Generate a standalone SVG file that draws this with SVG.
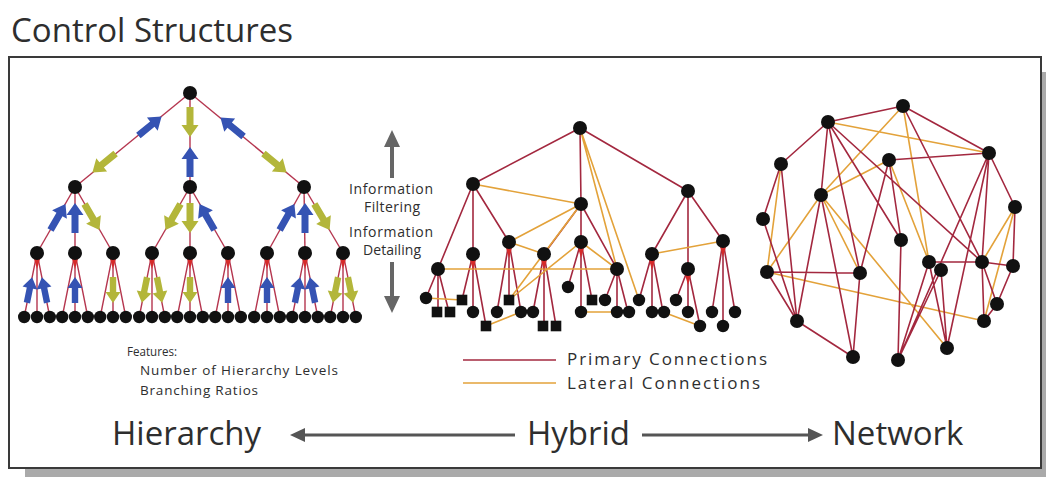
<svg xmlns="http://www.w3.org/2000/svg" width="1046" height="477" viewBox="0 0 1046 477">
<style>
text{font-family:"Open Sans","Liberation Sans",sans-serif;fill:#2e2e2e}
.pri{stroke:#a3283f;stroke-width:1.6;fill:none}
.lat{stroke:#e3a23a;stroke-width:1.6;fill:none}
.hl{stroke:#b5364f;stroke-width:1.4;fill:none}
.up{fill:#3553b3}
.dn{fill:#b3b63a}
.nd{fill:#111}
.hub{fill:#d62a2a}
.big{font-size:33px}
.mid{font-size:14px}
.sm{font-size:13.5px}
.leg{font-size:17px}
.garr{fill:#666}
.barr{stroke:#555;stroke-width:3}
</style>
<defs>
<circle id="dot" r="7"/>
<circle id="leaf" r="6.2"/>
<rect id="sq" x="-5.3" y="-5.3" width="10.6" height="10.6"/>
<path id="arr" d="M-15,-3.5 L3,-3.5 L3,-8.5 L15,0 L3,8.5 L3,3.5 L-15,3.5 Z"/>
<path id="arrS" d="M-13,-3.2 L2,-3.2 L2,-7.5 L13,0 L2,7.5 L2,3.2 L-13,3.2 Z"/>
<path id="hubS" d="M-3.5,4 L3.5,4 L0,16 Z"/>
</defs>

<rect x="25" y="72" width="1021" height="405" fill="#aaa"/>
<rect x="9" y="57" width="1032" height="411" fill="#fff" stroke="#3a3a3a" stroke-width="2"/>
<text x="11" y="42" class="big">Control Structures</text>

<!-- ===== Hierarchy ===== -->
<g id="hier-connectors">
<g class="hl">
<line x1="190" y1="93" x2="75" y2="187"/><line x1="190" y1="93" x2="190" y2="187"/><line x1="190" y1="93" x2="304" y2="187"/>
<line x1="75" y1="187" x2="37" y2="253"/><line x1="75" y1="187" x2="75" y2="253"/><line x1="75" y1="187" x2="113" y2="253"/>
<line x1="190" y1="187" x2="152" y2="253"/><line x1="190" y1="187" x2="190" y2="253"/><line x1="190" y1="187" x2="228" y2="253"/>
<line x1="304" y1="187" x2="267" y2="253"/><line x1="304" y1="187" x2="305" y2="253"/><line x1="304" y1="187" x2="343" y2="253"/>
<path d="M37,253L24.2,317M37,253L37,317M37,253L49.8,317 M75,253L62.2,317M75,253L75,317M75,253L87.8,317 M113,253L100.2,317M113,253L113,317M113,253L125.8,317 M152,253L139.2,317M152,253L152,317M152,253L164.8,317 M190,253L177.2,317M190,253L190,317M190,253L202.8,317 M228,253L215.2,317M228,253L228,317M228,253L240.8,317 M267,253L254.2,317M267,253L267,317M267,253L279.8,317 M305,253L292.2,317M305,253L305,317M305,253L317.8,317 M343,253L330.2,317M343,253L343,317M343,253L355.8,317"/>
</g>
<g class="hub">
<use href="#hubS" x="37" y="253"/><use href="#hubS" x="75" y="253"/><use href="#hubS" x="113" y="253"/><use href="#hubS" x="152" y="253"/><use href="#hubS" x="190" y="253"/><use href="#hubS" x="228" y="253"/><use href="#hubS" x="267" y="253"/><use href="#hubS" x="305" y="253"/><use href="#hubS" x="343" y="253"/>
</g>
<use href="#arr" class="up" transform="translate(150,126) rotate(-39.3)"/>
<use href="#arr" class="dn" transform="translate(104,163) rotate(140.7)"/>
<use href="#arr" class="dn" transform="translate(190,122) rotate(90)"/>
<use href="#arr" class="up" transform="translate(190,162) rotate(-90)"/>
<use href="#arr" class="up" transform="translate(232,127) rotate(-140.5)"/>
<use href="#arr" class="dn" transform="translate(275,163) rotate(39.5)"/>
<use href="#arr" class="up" transform="translate(58,217) rotate(-60.1)"/>
<use href="#arr" class="up" transform="translate(75,218) rotate(-90)"/>
<use href="#arr" class="dn" transform="translate(92,217) rotate(60.1)"/>
<use href="#arr" class="dn" transform="translate(173,217) rotate(119.9)"/>
<use href="#arr" class="dn" transform="translate(190,218) rotate(90)"/>
<use href="#arr" class="up" transform="translate(207,217) rotate(-119.9)"/>
<use href="#arr" class="up" transform="translate(287,217) rotate(-60.6)"/>
<use href="#arr" class="up" transform="translate(305,218) rotate(-90)"/>
<use href="#arr" class="dn" transform="translate(322,217) rotate(59.4)"/>
<use href="#arrS" class="up" transform="translate(29.5,290) rotate(-78.5)"/>
<use href="#arrS" class="up" transform="translate(44.5,290) rotate(-101.5)"/>
<use href="#arrS" class="up" transform="translate(75,290) rotate(-90)"/>
<use href="#arrS" class="dn" transform="translate(113,290) rotate(90)"/>
<use href="#arrS" class="dn" transform="translate(144.5,290) rotate(101.5)"/>
<use href="#arrS" class="dn" transform="translate(159.5,290) rotate(78.5)"/>
<use href="#arrS" class="dn" transform="translate(190,290) rotate(90)"/>
<use href="#arrS" class="up" transform="translate(228,290) rotate(-90)"/>
<use href="#arrS" class="up" transform="translate(267,290) rotate(-90)"/>
<use href="#arrS" class="up" transform="translate(297.5,290) rotate(-78.5)"/>
<use href="#arrS" class="up" transform="translate(312.5,290) rotate(-101.5)"/>
<use href="#arrS" class="dn" transform="translate(335.5,290) rotate(101.5)"/>
<use href="#arrS" class="dn" transform="translate(350.5,290) rotate(78.5)"/>
</g>
<g id="hier-nodes" class="nd">
<g id="h-root"><use href="#dot" x="190" y="93"/></g>
<g id="h-l"><use href="#dot" x="75" y="187"/></g>
<g id="h-m"><use href="#dot" x="190" y="187"/></g>
<g id="h-r"><use href="#dot" x="304" y="187"/></g>
<g id="h-a"><use href="#dot" x="37" y="253"/></g>
<g id="h-b"><use href="#dot" x="75" y="253"/></g>
<g id="h-c"><use href="#dot" x="113" y="253"/></g>
<g id="h-d"><use href="#dot" x="152" y="253"/></g>
<g id="h-e"><use href="#dot" x="190" y="253"/></g>
<g id="h-f"><use href="#dot" x="228" y="253"/></g>
<g id="h-g"><use href="#dot" x="267" y="253"/></g>
<g id="h-h"><use href="#dot" x="305" y="253"/></g>
<g id="h-i"><use href="#dot" x="343" y="253"/></g>
<g id="h-a1"><use href="#leaf" x="24.2" y="317"/></g><g id="h-a2"><use href="#leaf" x="37" y="317"/></g><g id="h-a3"><use href="#leaf" x="49.8" y="317"/></g>
<g id="h-b1"><use href="#leaf" x="62.2" y="317"/></g><g id="h-b2"><use href="#leaf" x="75" y="317"/></g><g id="h-b3"><use href="#leaf" x="87.8" y="317"/></g>
<g id="h-c1"><use href="#leaf" x="100.2" y="317"/></g><g id="h-c2"><use href="#leaf" x="113" y="317"/></g><g id="h-c3"><use href="#leaf" x="125.8" y="317"/></g>
<g id="h-d1"><use href="#leaf" x="139.2" y="317"/></g><g id="h-d2"><use href="#leaf" x="152" y="317"/></g><g id="h-d3"><use href="#leaf" x="164.8" y="317"/></g>
<g id="h-e1"><use href="#leaf" x="177.2" y="317"/></g><g id="h-e2"><use href="#leaf" x="190" y="317"/></g><g id="h-e3"><use href="#leaf" x="202.8" y="317"/></g>
<g id="h-f1"><use href="#leaf" x="215.2" y="317"/></g><g id="h-f2"><use href="#leaf" x="228" y="317"/></g><g id="h-f3"><use href="#leaf" x="240.8" y="317"/></g>
<g id="h-g1"><use href="#leaf" x="254.2" y="317"/></g><g id="h-g2"><use href="#leaf" x="267" y="317"/></g><g id="h-g3"><use href="#leaf" x="279.8" y="317"/></g>
<g id="h-h1"><use href="#leaf" x="292.2" y="317"/></g><g id="h-h2"><use href="#leaf" x="305" y="317"/></g><g id="h-h3"><use href="#leaf" x="317.8" y="317"/></g>
<g id="h-i1"><use href="#leaf" x="330.2" y="317"/></g><g id="h-i2"><use href="#leaf" x="343" y="317"/></g><g id="h-i3"><use href="#leaf" x="355.8" y="317"/></g>
</g>

<text x="127" y="356" class="sm" textLength="50" lengthAdjust="spacingAndGlyphs">Features:</text>
<text x="140" y="375" class="sm" textLength="198" lengthAdjust="spacing">Number of Hierarchy Levels</text>
<text x="140" y="395" class="sm" textLength="118" lengthAdjust="spacing">Branching Ratios</text>

<!-- ===== middle ===== -->
<g id="info-arrows" class="garr">
<polygon points="392,130 400,147 394,147 394,178 390,178 390,147 384,147"/>
<polygon points="392,313 400,296 394,296 394,262 390,262 390,296 384,296"/>
</g>
<g text-anchor="middle" class="mid">
<text x="391" y="194" textLength="84" lengthAdjust="spacing">Information</text>
<text x="392" y="212" textLength="56" lengthAdjust="spacing">Filtering</text>
<text x="391" y="237" textLength="84" lengthAdjust="spacing">Information</text>
<text x="392" y="255" textLength="58" lengthAdjust="spacing">Detailing</text>
</g>

<!-- ===== Hybrid ===== -->
<g id="hyb-connectors">
<g class="pri">
<path d="M580,128L473,184M580,128L581,204M580,128L688,191
M473,184L438,269M473,184L473,254M473,184L509,242
M581,204L544,254M581,204L581,242M581,204L617,269
M688,191L652,254M688,191L688,269M688,191L723,241
M438,269L426,298M438,269L438,312M438,269L449,312
M473,254L462,300M473,254L473,312M473,254L486,326
M509,242L497,312M509,242L509,300M509,242L521,312
M544,254L533,312M544,254L544,326M544,254L556,326
M581,242L568,287M581,242L581,312M581,242L592,300
M617,269L605,300M617,269L617,312M617,269L628,312
M652,254L639,300M652,254L652,312M652,254L663,312
M688,269L676,300M688,269L688,312M688,269L700,326
M723,241L712,312M723,241L723,326M723,241L735,312"/>
</g>
<g class="lat">
<path d="M473,184L581,204 M580,128L617,269 M580,128L639,300 M581,204L509,242 M509,242L544,254 M581,242L617,269
M438,269L617,269 M509,300L581,242 M509,300L581,204 M426,298L462,300 M486,326L521,312 M581,312L617,312
M652,254L723,241 M663,312L700,326"/>
</g>
<g class="hub">
<use href="#hubS" x="473" y="254"/><use href="#hubS" x="509" y="242"/><use href="#hubS" x="544" y="254"/><use href="#hubS" x="581" y="242"/><use href="#hubS" x="652" y="254"/><use href="#hubS" x="688" y="269"/><use href="#hubS" x="723" y="241"/>
</g>
</g>
<g id="hyb-nodes" class="nd">
<g id="y-A"><use href="#dot" x="580" y="128"/></g>
<g id="y-B"><use href="#dot" x="473" y="184"/></g>
<g id="y-C"><use href="#dot" x="581" y="204"/></g>
<g id="y-D"><use href="#dot" x="688" y="191"/></g>
<g id="y-E"><use href="#dot" x="438" y="269"/></g>
<g id="y-F"><use href="#dot" x="473" y="254"/></g>
<g id="y-G"><use href="#dot" x="509" y="242"/></g>
<g id="y-H"><use href="#dot" x="544" y="254"/></g>
<g id="y-I"><use href="#dot" x="581" y="242"/></g>
<g id="y-J"><use href="#dot" x="617" y="269"/></g>
<g id="y-K"><use href="#dot" x="652" y="254"/></g>
<g id="y-L"><use href="#dot" x="688" y="269"/></g>
<g id="y-M"><use href="#dot" x="723" y="241"/></g>
<g id="y-E1"><use href="#leaf" x="426" y="298"/></g><g id="y-E2"><use href="#sq" x="437" y="312"/></g><g id="y-E3"><use href="#sq" x="450" y="312"/></g>
<g id="y-F1"><use href="#sq" x="462" y="300"/></g><g id="y-F2"><use href="#leaf" x="473" y="312"/></g><g id="y-F3"><use href="#sq" x="486" y="326"/></g>
<g id="y-G1"><use href="#leaf" x="497" y="312"/></g><g id="y-G2"><use href="#sq" x="509" y="300"/></g><g id="y-G3"><use href="#leaf" x="521" y="312"/></g>
<g id="y-H1"><use href="#leaf" x="533" y="312"/></g><g id="y-H2"><use href="#sq" x="543" y="326"/></g><g id="y-H3"><use href="#sq" x="556" y="326"/></g>
<g id="y-I1"><use href="#leaf" x="568" y="287"/></g><g id="y-I2"><use href="#leaf" x="581" y="312"/></g><g id="y-I3"><use href="#sq" x="592" y="300"/></g>
<g id="y-J1"><use href="#leaf" x="605" y="300"/></g><g id="y-J2"><use href="#leaf" x="617" y="312"/></g><g id="y-J3"><use href="#leaf" x="629" y="312"/></g>
<g id="y-K1"><use href="#leaf" x="639" y="300"/></g><g id="y-K2"><use href="#leaf" x="652" y="312"/></g><g id="y-K3"><use href="#leaf" x="664" y="312"/></g>
<g id="y-L1"><use href="#leaf" x="676" y="300"/></g><g id="y-L2"><use href="#leaf" x="688" y="312"/></g><g id="y-L3"><use href="#leaf" x="700" y="326"/></g>
<g id="y-M1"><use href="#leaf" x="712" y="312"/></g><g id="y-M2"><use href="#leaf" x="723" y="326"/></g><g id="y-M3"><use href="#leaf" x="735" y="312"/></g>
</g>

<!-- ===== Network ===== -->
<g id="net-connectors">
<g class="lat">
<path d="M828,122L989,153 M903,106L821,195 M903,106L929,262 M821,195L889,160 M821,195L767,272 M821,195L860,273 M821,195L947,348
M767,272L984,321 M781,164L767,272 M889,160L929,262 M1015,207L982,262 M1015,207L984,321"/>
</g>
<g class="pri">
<path d="M828,122L903,106 M903,106L989,153 M828,122L781,164 M828,122L821,195 M828,122L901,240 M828,122L982,262 M828,122L860,273
M903,106L982,262 M989,153L889,160 M989,153L982,262 M989,153L1015,207 M989,153L898,360 M989,153L947,348
M781,164L763,219 M763,219L797,321 M781,164L797,321 M767,272L860,273 M767,272L797,321 M821,195L797,321 M821,195L853,357
M889,160L860,273 M889,160L901,240 M901,240L898,360 M797,321L853,357 M860,273L853,357 M1015,207L1013,266
M929,262L982,262 M982,262L1013,266 M929,262L947,348 M941,270L947,348 M941,270L898,360 M929,262L898,360
M982,262L997,304 M1013,266L997,304 M997,304L984,321 M982,262L984,321"/>
</g>
</g>
<g id="net-nodes" class="nd">
<g id="n1"><use href="#dot" x="903" y="106"/></g>
<g id="n2"><use href="#dot" x="828" y="122"/></g>
<g id="n3"><use href="#dot" x="989" y="153"/></g>
<g id="n4"><use href="#dot" x="781" y="164"/></g>
<g id="n5"><use href="#dot" x="889" y="160"/></g>
<g id="n6"><use href="#dot" x="821" y="195"/></g>
<g id="n7"><use href="#dot" x="1015" y="207"/></g>
<g id="n8"><use href="#dot" x="763" y="219"/></g>
<g id="n9"><use href="#dot" x="901" y="240"/></g>
<g id="n10"><use href="#dot" x="929" y="262"/></g>
<g id="n11"><use href="#dot" x="941" y="270"/></g>
<g id="n12"><use href="#dot" x="982" y="262"/></g>
<g id="n13"><use href="#dot" x="1013" y="266"/></g>
<g id="n14"><use href="#dot" x="767" y="272"/></g>
<g id="n15"><use href="#dot" x="860" y="273"/></g>
<g id="n16"><use href="#dot" x="997" y="304"/></g>
<g id="n17"><use href="#dot" x="797" y="321"/></g>
<g id="n18"><use href="#dot" x="984" y="321"/></g>
<g id="n19"><use href="#dot" x="947" y="348"/></g>
<g id="n20"><use href="#dot" x="853" y="357"/></g>
<g id="n21"><use href="#dot" x="898" y="360"/></g>
</g>

<!-- ===== Legend ===== -->
<g id="legend">
<line x1="463" y1="360" x2="556" y2="360" class="pri" stroke-width="2"/>
<line x1="463" y1="383" x2="556" y2="383" class="lat" stroke-width="2"/>
<text x="567" y="365" class="leg" textLength="200" lengthAdjust="spacing">Primary Connections</text>
<text x="567" y="389" class="leg" textLength="193" lengthAdjust="spacing">Lateral Connections</text>
</g>

<!-- ===== Spectrum ===== -->
<g id="spectrum">
<line x1="302" y1="435" x2="515" y2="435" class="barr"/>
<polygon points="290,435 305,428 305,442" fill="#555"/>
<line x1="642" y1="435" x2="810" y2="435" class="barr"/>
<polygon points="823,435 808,428 808,442" fill="#555"/>
<text x="112" y="445" class="big">Hierarchy</text>
<text x="527" y="445" class="big">Hybrid</text>
<text x="832" y="445" class="big">Network</text>
</g>
</svg>
